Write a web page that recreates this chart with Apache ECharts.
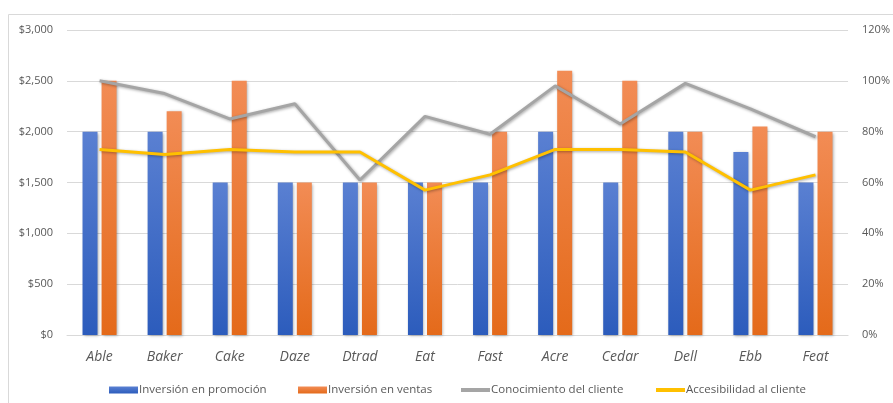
<!DOCTYPE html>
<html>
<head>
<meta charset="utf-8">
<script src="https://cdn.jsdelivr.net/npm/echarts@6/dist/echarts.min.js"></script>
<style>html,body{margin:0;padding:0;background:#fff;}#c{width:893px;height:403px;}</style>
</head>
<body>
<div id="c"></div>
<script>
const categories = ['Able','Baker','Cake','Daze','Dtrad','Eat','Fast','Acre','Cedar','Dell','Ebb','Feat'];
const promocion = [2000,2000,1500,1500,1500,1500,1500,2000,1500,2000,1800,1500];
const ventas = [2500,2200,2500,1500,1500,1500,2000,2600,2500,2000,2050,2000];
const conocimiento = [100,95,85,91,61,86,79,98,83,99,89,78];
const accesibilidad = [73,71,73,72,72,57,63,73,73,72,57,63];
const seriesNames = ['Inversión en promoción','Inversión en ventas','Conocimiento del cliente','Accesibilidad al cliente'];

const txt = '#595959';
const font = 'Open Sans';
const chart = echarts.init(document.getElementById('c'));
const shadow = {shadowBlur:3, shadowColor:'rgba(0,0,0,0.35)', shadowOffsetX:1, shadowOffsetY:1};
function grad(top,bottom){return new echarts.graphic.LinearGradient(0,0,0,1,[{offset:0,color:top},{offset:1,color:bottom}]);}
function leg(name,left,h,color){
  const l = {data:[name], left:left, top:379, itemWidth:29, itemHeight:h, itemGap:0, icon:'rect',
    textStyle:{color:txt,fontSize:11.5,fontFamily:font,padding:[0,0,0,-4]}, selectedMode:false};
  if(color) l.itemStyle={color:color};
  return l;
}
chart.setOption({
  animation:false,
  graphic:[{type:'rect',shape:{x:8.5,y:14.5,width:900,height:400},style:{fill:'none',stroke:'#d9d9d9',lineWidth:1},silent:true,z:-1}],
  grid:{left:67,right:37,top:30,bottom:68},
  legend:[leg(seriesNames[0],104,7),leg(seriesNames[1],293,7),leg(seriesNames[2],456,4,'#a5a5a5'),leg(seriesNames[3],651,4,'#ffc000')],
  xAxis:{type:'category',data:categories,
    axisLine:{lineStyle:{color:'#d9d9d9'}},axisTick:{show:false},
    axisLabel:{color:txt,fontSize:14,fontStyle:'italic',fontFamily:font,margin:15}},
  yAxis:[
    {type:'value',min:0,max:3000,interval:500,
     axisLabel:{color:txt,fontSize:11,fontFamily:font,margin:14,formatter:v=>'$'+v.toLocaleString('en-US')},
     splitLine:{lineStyle:{color:'#d9d9d9'}},axisLine:{show:false},axisTick:{show:false}},
    {type:'value',min:0,max:120,interval:20,
     axisLabel:{color:txt,fontSize:11,fontFamily:font,margin:14,formatter:'{value}%'},
     splitLine:{show:false},axisLine:{show:false},axisTick:{show:false}}
  ],
  series:[
    {name:seriesNames[0],type:'bar',data:promocion,barWidth:15,barGap:'27%',
     itemStyle:Object.assign({color:grad('#5a80d2','#2c5cbc')},shadow)},
    {name:seriesNames[1],type:'bar',data:ventas,barWidth:15,
     itemStyle:Object.assign({color:grad('#f28c55','#e46a1a')},shadow)},
    {name:seriesNames[2],type:'line',yAxisIndex:1,data:conocimiento,symbol:'none',
     lineStyle:Object.assign({color:'#a5a5a5',width:3},shadow),itemStyle:{color:'#a5a5a5'}},
    {name:seriesNames[3],type:'line',yAxisIndex:1,data:accesibilidad,symbol:'none',
     lineStyle:Object.assign({color:'#ffc000',width:3},shadow),itemStyle:{color:'#ffc000'}}
  ]
});
</script>
</body>
</html>
